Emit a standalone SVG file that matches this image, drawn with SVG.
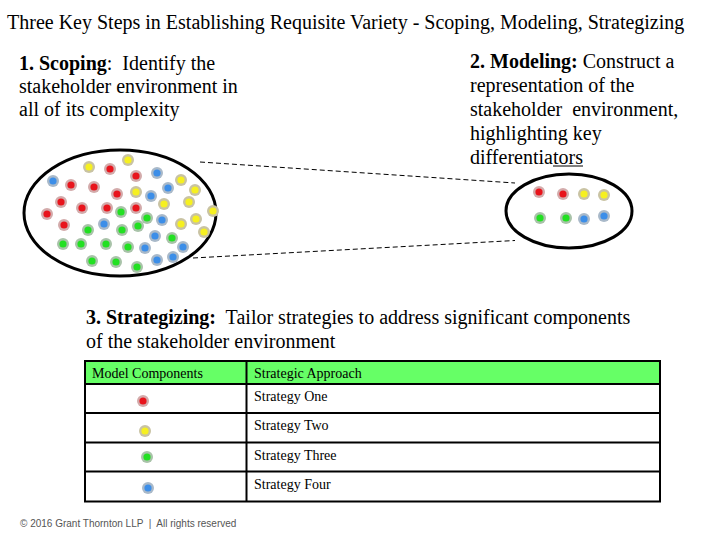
<svg xmlns="http://www.w3.org/2000/svg" xmlns:xlink="http://www.w3.org/1999/xlink" width="720" height="540" viewBox="0 0 720 540">
<style>
.t{font-family:"Liberation Serif","Times New Roman",serif;fill:#000}
.h{font-size:20px}
.s{font-size:20px}
.b{font-weight:bold}
.c{font-size:14px}
.f{font-family:"Liberation Sans",Arial,sans-serif;font-size:10px;fill:#555}
.ell{fill:#fff;stroke:#000;stroke-width:3}
.dash{fill:none;stroke:#000;stroke-width:1;stroke-dasharray:5 3}
.grid{fill:none;stroke:#000;stroke-width:2}
</style>
<defs>
<g id="dr"><circle r="6" fill="#d3abab"/><circle r="3.6" fill="#e8141c"/></g>
<g id="dy"><circle r="6" fill="#c9c3a3"/><circle r="3.6" fill="#f6f020"/></g>
<g id="dg"><circle r="6" fill="#a9c3a9"/><circle r="3.6" fill="#22e022"/></g>
<g id="db"><circle r="6" fill="#a9b9c9"/><circle r="3.6" fill="#3c8ee8"/></g>
</defs>
<rect width="720" height="540" fill="#fff"/>
<g id="title"><text class="t h" x="7" y="29">Three Key Steps in Establishing Requisite Variety - Scoping, Modeling, Strategizing</text></g>
<g id="step1"><text class="t s" x="19" y="70" xml:space="preserve"><tspan class="b">1. Scoping</tspan>:  Identify the</text>
<text class="t s" x="19" y="93">stakeholder environment in</text>
<text class="t s" x="19" y="116">all of its complexity</text></g>
<g id="step2"><text class="t s" x="470" y="68"><tspan class="b">2. Modeling:</tspan> Construct a</text>
<text class="t s" x="470" y="92">representation of the</text>
<text class="t s" x="470" y="116" xml:space="preserve">stakeholder  environment,</text>
<text class="t s" x="470" y="140">highlighting key</text>
<text class="t s" x="470" y="164">differentiators</text>
<line x1="553" y1="166" x2="583" y2="166" stroke="#000" stroke-width="1"/></g>
<g id="connectors">
<line class="dash" x1="200" y1="162" x2="515" y2="183"/>
<line class="dash" x1="193" y1="258" x2="515" y2="240.5"/>
</g>
<g id="environment">
<ellipse class="ell" cx="120" cy="213" rx="96" ry="63"/>
<use xlink:href="#dy" x="89" y="167"/><use xlink:href="#dr" x="110" y="169"/><use xlink:href="#dy" x="128" y="160"/>
<use xlink:href="#db" x="53" y="181"/><use xlink:href="#dr" x="71" y="185"/><use xlink:href="#dr" x="94" y="187"/>
<use xlink:href="#dr" x="136" y="176"/><use xlink:href="#db" x="157" y="173"/><use xlink:href="#dy" x="181" y="180"/>
<use xlink:href="#dr" x="117" y="194"/><use xlink:href="#dy" x="136" y="192"/><use xlink:href="#db" x="168" y="188"/>
<use xlink:href="#dy" x="195" y="190"/><use xlink:href="#db" x="151" y="196"/><use xlink:href="#dr" x="61" y="202"/>
<use xlink:href="#dr" x="82" y="208"/><use xlink:href="#dr" x="107" y="208"/><use xlink:href="#dg" x="121" y="212"/>
<use xlink:href="#dr" x="136" y="208"/><use xlink:href="#dy" x="164" y="204"/><use xlink:href="#dy" x="189" y="202"/>
<use xlink:href="#dy" x="213" y="211"/><use xlink:href="#dr" x="47" y="214"/><use xlink:href="#dg" x="147" y="218"/>
<use xlink:href="#db" x="162" y="220"/><use xlink:href="#dy" x="196" y="219"/><use xlink:href="#dr" x="64" y="225"/>
<use xlink:href="#db" x="104" y="224"/><use xlink:href="#dg" x="88" y="230"/><use xlink:href="#dg" x="122" y="230"/>
<use xlink:href="#dg" x="138" y="226"/><use xlink:href="#dy" x="181" y="224"/><use xlink:href="#dy" x="204" y="232"/>
<use xlink:href="#db" x="155" y="236"/><use xlink:href="#dg" x="172" y="238"/><use xlink:href="#dg" x="63" y="244"/>
<use xlink:href="#dg" x="81" y="244"/><use xlink:href="#dg" x="106" y="244"/><use xlink:href="#dg" x="128" y="247"/>
<use xlink:href="#db" x="145" y="248"/><use xlink:href="#db" x="183" y="247"/><use xlink:href="#dg" x="92" y="261"/>
<use xlink:href="#dg" x="116" y="262"/><use xlink:href="#dg" x="137" y="267"/><use xlink:href="#db" x="157" y="260"/>
<use xlink:href="#db" x="173" y="257"/>
</g>
<g id="model">
<ellipse class="ell" cx="569" cy="211" rx="63" ry="37"/>
<use xlink:href="#dr" x="539" y="192"/><use xlink:href="#dr" x="563" y="194"/><use xlink:href="#dy" x="584" y="194"/><use xlink:href="#dy" x="604" y="195"/>
<use xlink:href="#dg" x="540" y="218"/><use xlink:href="#dg" x="566" y="218"/><use xlink:href="#db" x="584" y="219"/><use xlink:href="#db" x="604" y="216"/>
</g>
<g id="step3"><text class="t s" x="86" y="324" xml:space="preserve"><tspan class="b">3. Strategizing:</tspan>  Tailor strategies to address significant components</text>
<text class="t s" x="86" y="348">of the stakeholder environment</text></g>
<g id="table">
<rect x="85" y="361" width="575" height="23" fill="#66ff66"/>
<rect class="grid" x="85" y="361" width="575" height="140.5"/>
<line class="grid" x1="85" y1="384" x2="660" y2="384"/>
<line class="grid" x1="85" y1="413" x2="660" y2="413"/>
<line class="grid" x1="85" y1="442.5" x2="660" y2="442.5"/>
<line class="grid" x1="85" y1="471.5" x2="660" y2="471.5"/>
<line class="grid" x1="246.5" y1="361" x2="246.5" y2="501.5"/>
<text class="t c" x="92" y="378">Model Components</text>
<text class="t c" x="254" y="378">Strategic Approach</text>
<text class="t c" x="254" y="401">Strategy One</text>
<text class="t c" x="254" y="430">Strategy Two</text>
<text class="t c" x="254" y="460">Strategy Three</text>
<text class="t c" x="254" y="489">Strategy Four</text>
<use xlink:href="#dr" x="143" y="401"/><use xlink:href="#dy" x="145" y="431"/><use xlink:href="#dg" x="147" y="457"/><use xlink:href="#db" x="148" y="488"/>
</g>
<g id="footer"><text class="f" x="20" y="527" xml:space="preserve">© 2016 Grant Thornton LLP  |  All rights reserved</text></g>
</svg>
